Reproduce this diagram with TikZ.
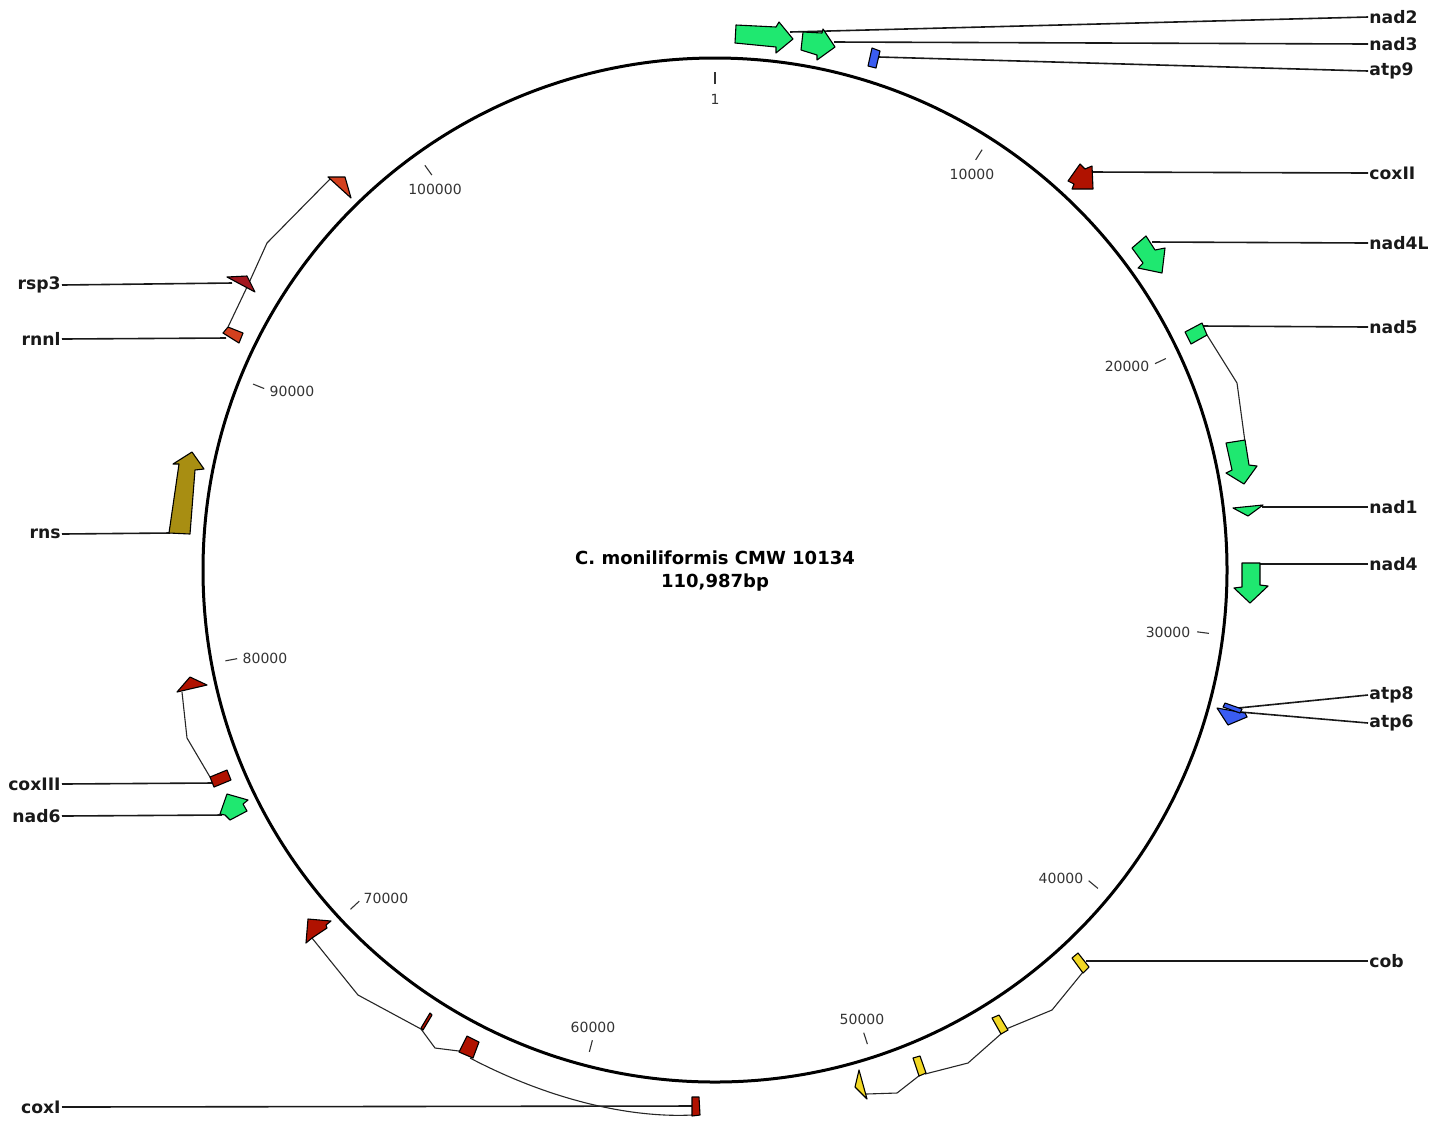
\documentclass[tikz,border=0pt]{standalone}
\usepackage{fontspec}
\setmainfont{DejaVu Sans}
\usetikzlibrary{calc}
\definecolor{cgreen}{HTML}{1FE870}
\definecolor{cred}{HTML}{B01200}
\definecolor{cblue}{HTML}{3A5CF2}
\definecolor{cyellow}{HTML}{F2D824}
\definecolor{colive}{HTML}{A88E12}
\definecolor{corange}{HTML}{D4401E}
\definecolor{cdarkred}{HTML}{A2161E}
\definecolor{cgrey}{HTML}{333333}
\tikzset{
  every picture/.style={line join=round},
  gene/.style={draw=black, line width=0.55pt, fill=#1},
  gene/.default=cgreen,
  leader/.style={draw=black!90, line width=0.8pt},
  intron/.style={draw=black!85, line width=0.55pt},
  glabel/.style={font=\fontsize{8.6}{10}\selectfont\bfseries, inner sep=0.5pt, text=black!90},
  ticklabel/.style={font=\fontsize{7}{8}\selectfont, text=cgrey, inner sep=0pt},
  tickmark/.style={draw=cgrey, line width=0.55pt},
  title/.style={font=\fontsize{9}{11.5}\selectfont\bfseries, align=center},
}

\begin{document}
\begin{tikzpicture}[x=0.5pt, y=-0.5pt]
  \useasboundingbox (0,0) rectangle (1433,1121);
  % genome circle, ticks every 10 kb
  \draw[line width=1.5pt] (715,570) circle[radius=512];
  \foreach \k in {0,...,10}
    \draw[tickmark, shift={(715,570)}] ({\k*32.4362-90}:486) -- ({\k*32.4362-90}:498);
  \foreach \txt/\lx/\ly in {1/715/99, 10000/972/174, 20000/1127/366, 30000/1168/632,
      40000/1061/878, 50000/862/1019, 60000/593/1027, 70000/386/898,
      80000/265/658, 90000/292/391, 100000/435/189}
    \node[ticklabel] (tl\txt) at (\lx,\ly) {\txt};
  \node[title] (name) at (715,571) {C. moniliformis CMW 10134\\110,987bp};

  % gene labels
  \node[glabel, anchor=west] (nad2) at (1368,17) {nad2};
  \node[glabel, anchor=west] (nad3) at (1368,44) {nad3};
  \node[glabel, anchor=west] (atp9) at (1368,71) {atp9};
  \node[glabel, anchor=west] (coxII) at (1368,173) {coxII};
  \node[glabel, anchor=west] (nad4L) at (1368,243) {nad4L};
  \node[glabel, anchor=west] (nad5) at (1368,327) {nad5};
  \node[glabel, anchor=west] (nad1) at (1368,507) {nad1};
  \node[glabel, anchor=west] (nad4) at (1368,564) {nad4};
  \node[glabel, anchor=west] (atp8) at (1368,695) {atp8};
  \node[glabel, anchor=west] (atp6) at (1368,723) {atp6};
  \node[glabel, anchor=west] (cob) at (1368,961) {cob};
  \node[glabel, anchor=east] (rsp3) at (62,285) {rsp3};
  \node[glabel, anchor=east] (rnnl) at (62,339) {rnnl};
  \node[glabel, anchor=east] (rns) at (62,534) {rns};
  \node[glabel, anchor=east] (coxIII) at (62,784) {coxIII};
  \node[glabel, anchor=east] (nad6) at (62,816) {nad6};
  \node[glabel, anchor=east] (coxI) at (62,1107) {coxI};

  % leader end points on the genes
  \coordinate (g-nad2) at (790,32);
  \coordinate (g-nad3) at (834,42);
  \coordinate (g-atp9) at (879,57);
  \coordinate (g-coxII) at (1092,172);
  \coordinate (g-nad4L) at (1152,242);
  \coordinate (g-nad5) at (1202,326);
  \coordinate (g-nad1) at (1262,507);
  \coordinate (g-nad4) at (1259,564);
  \coordinate (g-atp8) at (1238,708);
  \coordinate (g-atp6) at (1240,712);
  \coordinate (g-cob) at (1086,961);
  \coordinate (g-rsp3) at (232,283);
  \coordinate (g-rnnl) at (226,338);
  \coordinate (g-rns) at (170,533);
  \coordinate (g-coxIII) at (212,783);
  \coordinate (g-nad6) at (222,815);
  \coordinate (g-coxI) at (693,1106);
  \foreach \g in {nad2,nad3,atp9,coxII,nad4L,nad5,nad1,nad4,atp8,atp6,cob}
    \draw[leader] (\g.west) -- (g-\g);
  \foreach \g in {rsp3,rnnl,rns,coxIII,nad6,coxI}
    \draw[leader] (\g.east) -- (g-\g);

  % introns
  \draw[intron] (1207,335) -- (1237,383) -- (1245,442);
  \draw[intron] (1083,972) -- (1052,1010) -- (1006,1029);
  \draw[intron] (1002,1033) -- (968,1063) -- (925,1074);
  \draw[intron] (920,1075) -- (897,1093) -- (866,1094);
  \draw[intron] (312,938) -- (358,995) -- (421,1029);
  \draw[intron] (421,1029) -- (435,1048) -- (459,1051);
  \draw[intron] (470,1058) .. controls (550,1100) and (630,1118) .. (692,1115);
  \draw[intron] (210,777) -- (187,738) -- (182,692);
  \draw[intron] (228,327) -- (248,285) -- (267,243) -- (331,178);

  % genes
  \draw[gene] (736,25) -- (776,27) -- (779,22) -- (793,39) -- (776,53) -- (776,47) -- (735,43) -- cycle;
  \draw[gene] (803,32) -- (822,33) -- (823,29) -- (835,47) -- (817,60) -- (817,55) -- (801,50) -- cycle;
  \draw[gene=cblue] (872,48) -- (880,51) -- (876,68) -- (868,66) -- cycle;
  \draw[gene=cred] (1080,164) -- (1085,169) -- (1092,166) -- (1093,189) -- (1072,189) -- (1074,184) -- (1068,181) -- cycle;
  \draw[gene] (1132,248) -- (1146,236) -- (1155,250) -- (1165,248) -- (1162,273) -- (1138,268) -- (1143,263) -- cycle;
  \draw[gene] (1185,332) -- (1202,323) -- (1207,335) -- (1191,344) -- cycle;
  \draw[gene] (1226,443) -- (1245,440) -- (1249,465) -- (1257,466) -- (1244,484) -- (1226,473) -- (1232,470) -- cycle;
  \draw[gene] (1233,508) -- (1263,505) -- (1248,516) -- cycle;
  \draw[gene] (1242,563) -- (1260,563) -- (1260,585) -- (1268,586) -- (1250,603) -- (1234,588) -- (1242,587) -- cycle;
  \draw[gene=cblue] (1217,708) -- (1245,713) -- (1247,717) -- (1228,725) -- cycle;
  \draw[gene=cblue] (1225,703) -- (1242,709) -- (1240,713) -- (1223,707) -- cycle;
  \draw[gene=cyellow] (1072,958) -- (1078,953) -- (1089,967) -- (1083,973) -- cycle;
  \draw[gene=cyellow] (992,1018) -- (999,1015) -- (1008,1030) -- (1001,1034) -- cycle;
  \draw[gene=cyellow] (913,1058) -- (920,1056) -- (926,1073) -- (919,1076) -- cycle;
  \draw[gene=cyellow] (859,1070) -- (867,1099) -- (855,1087) -- cycle;
  \draw[gene=cred] (308,919) -- (331,921) -- (326,925) -- (327,928) -- (312,938) -- (306,943) -- cycle;
  \draw[gene=cred] (421,1028) -- (430,1013) -- (432,1015) -- (423,1030) -- cycle;
  \draw[gene=cred] (459,1052) -- (467,1036) -- (479,1042) -- (473,1058) -- cycle;
  \draw[gene=cred] (692,1097) -- (699,1097) -- (700,1115) -- (692,1116) -- cycle;
  \draw[gene=cred] (210,777) -- (227,770) -- (231,780) -- (214,787) -- cycle;
  \draw[gene=cred] (177,692) -- (190,677) -- (207,685) -- cycle;
  \draw[gene] (227,794) -- (248,800) -- (243,804) -- (247,811) -- (230,820) -- (225,815) -- (220,814) -- cycle;
  \draw[gene=colive] (169,533) -- (190,534) -- (195,470) -- (204,469) -- (192,452) -- (173,464) -- (179,464) -- cycle;
  \draw[gene=corange] (223,333) -- (228,327) -- (243,333) -- (239,343) -- cycle;
  \draw[gene=cdarkred] (227,277) -- (247,276) -- (255,292) -- cycle;
  \draw[gene=corange] (328,177) -- (345,177) -- (351,198) -- cycle;
\end{tikzpicture}
\end{document}
